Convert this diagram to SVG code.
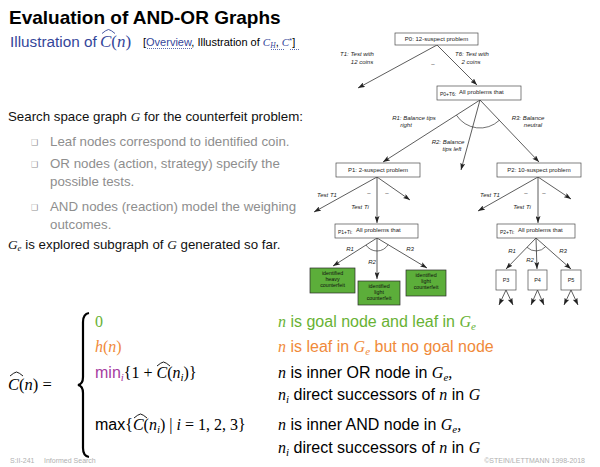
<svg xmlns="http://www.w3.org/2000/svg" width="600" height="467" viewBox="0 0 600 467">
  <style>
    .s { font-family: "Liberation Sans", Arial, sans-serif; }
    .mi { font-family: "Liberation Serif", "Times New Roman", serif; font-style: italic; }
    .mr { font-family: "Liberation Serif", "Times New Roman", serif; }
    .blue { fill: #34469a; }
    .gray { fill: #8e8e8e; }
    .green { fill: #68b234; }
    .orange { fill: #f08a3a; }
    .mag { fill: #a63ca0; }
    .box { fill: #ffffff; stroke: #4a4a4a; stroke-width: 0.7; }
    .leaf { fill: #5cae3a; stroke: #2a2a2a; stroke-width: 0.7; }
    .nl { font-family: "Liberation Sans", Arial, sans-serif; font-size: 6px; fill: #222; text-anchor: middle; }
    .nh { font-family: "Liberation Sans", Arial, sans-serif; font-size: 5px; fill: #222; }
    .nt { font-family: "Liberation Sans", Arial, sans-serif; font-size: 6px; fill: #222; }
    .pn { font-family: "Liberation Sans", Arial, sans-serif; font-size: 5.5px; fill: #222; text-anchor: middle; }
    .lt { font-family: "Liberation Sans", Arial, sans-serif; font-size: 5.3px; fill: #111; text-anchor: middle; }
    .el { font-family: "Liberation Sans", Arial, sans-serif; font-size: 6px; font-style: italic; fill: #222; text-anchor: middle; }
    .dash { font-family: "Liberation Sans", Arial, sans-serif; font-size: 6px; fill: #222; text-anchor: middle; }
    .edge { stroke: #333; stroke-width: 0.8; fill: none; marker-end: url(#arr); }
    .arc { stroke: #333; stroke-width: 0.7; fill: none; }
    .hat { stroke: #000; stroke-width: 0.9; fill: none; }
    .hatb { stroke: #34469a; stroke-width: 0.9; fill: none; }
    .dot { stroke: #34469a; stroke-width: 0.8; stroke-dasharray: 1 1; }
    .bul { font-family: "DejaVu Sans", sans-serif; font-size: 8px; fill: #8e8e8e; }
  </style>
  <defs>
    <marker id="arr" markerUnits="userSpaceOnUse" markerWidth="7" markerHeight="5" refX="7" refY="2.5" orient="auto">
      <path d="M0,0 L7,2.5 L0,5 L1.5,2.5 z" fill="#222"/>
    </marker>
  </defs>

  <!-- heading -->
  <g id="heading">
    <text x="9" y="24" class="s" font-size="19" font-weight="bold" fill="#000">Evaluation of AND-OR Graphs</text>
    <text x="10" y="47" class="s blue" font-size="15.3">Illustration of</text>
    <text x="100" y="47" class="mr blue" font-size="17"><tspan class="mi">C</tspan>(<tspan class="mi">n</tspan>)</text>
    <path class="hatb" d="M102,33.5 Q106,30 108.5,29.5 Q111,30 115,33.5"/>
    <text x="143" y="46" class="s" font-size="11" fill="#000">[<tspan class="blue">Overview</tspan>, Illustration of <tspan class="mi blue">C</tspan><tspan class="mi blue" font-size="7.5" dy="2">H</tspan><tspan dy="-2">, </tspan><tspan class="mi blue">C</tspan><tspan class="blue" font-size="8" dy="-3">*</tspan><tspan dy="3">]</tspan></text>
    <line class="dot" x1="147" y1="48.5" x2="193" y2="48.5"/>
    <line class="dot" x1="271" y1="49.5" x2="285" y2="49.5"/>
    <line class="dot" x1="290" y1="49.5" x2="300" y2="49.5"/>
  </g>

  <!-- description text -->
  <g id="description">
    <text x="8" y="121" class="s" font-size="13.3" fill="#111">Search space graph <tspan class="mi">G</tspan> for the counterfeit problem:</text>
    <text x="31" y="145" class="bul">❑</text>
    <text x="31" y="167" class="bul">❑</text>
    <text x="31" y="210" class="bul">❑</text>
    <g class="s gray" font-size="13.3">
      <text x="50" y="146">Leaf nodes correspond to identified coin.</text>
      <text x="50" y="168">OR nodes (action, strategy) specify the</text>
      <text x="50" y="186">possible tests.</text>
      <text x="50" y="211">AND nodes (reaction) model the weighing</text>
      <text x="50" y="229">outcomes.</text>
    </g>
    <text x="8" y="249" class="s" font-size="13.3" fill="#111"><tspan class="mi">G</tspan><tspan class="mi" font-size="9" dy="2">e</tspan><tspan dy="-2"> is explored subgraph of </tspan><tspan class="mi">G</tspan> generated so far.</text>
  </g>

  <!-- connectors -->
  <g id="connectors">
    <path class="edge" d="M437,45 L358,88"/>
    <path class="edge" d="M437,45 L477,85"/>
    <path class="edge" d="M480,100 L383,162"/>
    <path class="edge" d="M480,100 L461,170"/>
    <path class="edge" d="M480,100 L539,162"/>
    <path class="arc" d="M456.4,115.1 A28,28 0 0 0 499.3,120.3"/>

    <path class="edge" d="M377,177 L314,212"/>
    <path class="edge" d="M377,177 L377,223"/>
    <path class="edge" d="M377,177 L410,200"/>
    <path class="edge" d="M538,177 L478,211"/>
    <path class="edge" d="M538,177 L538,223"/>
    <path class="edge" d="M538,177 L571,199"/>

    <path class="edge" d="M377,238 L333,266"/>
    <path class="edge" d="M377,238 L377,279"/>
    <path class="edge" d="M377,238 L427,268"/>
    <path class="arc" d="M366,245 A13,13 0 0 0 388.1,244.7"/>

    <path class="edge" d="M536,238 L506,269"/>
    <path class="edge" d="M536,238 L537,269"/>
    <path class="edge" d="M536,238 L571,269"/>
    <path class="arc" d="M527,247.3 A13,13 0 0 0 545.7,246.6"/>

    <path class="edge" d="M506,290 L499,305"/>
    <path class="edge" d="M506,290 L513,305"/>
    <path class="edge" d="M537.5,290 L531,305"/>
    <path class="edge" d="M537.5,290 L544,305"/>
    <path class="edge" d="M571,290 L564,305"/>
    <path class="edge" d="M571,290 L578,305"/>

    <!-- connector labels -->
    <text class="el" x="357" y="56">T1: Test with</text>
    <text class="el" x="362" y="64">12 coins</text>
    <text class="el" x="472" y="56">T6: Test with</text>
    <text class="el" x="471" y="64">2 coins</text>
    <text class="dash" x="433" y="66">–</text>
    <text class="el" x="414" y="120">R1: Balance tips</text>
    <text class="el" x="406" y="127">right</text>
    <text class="el" x="448" y="144">R2: Balance</text>
    <text class="el" x="452" y="151">tips left</text>
    <text class="el" x="528" y="120">R3: Balance</text>
    <text class="el" x="533" y="127">neutral</text>

    <text class="el" x="327" y="197">Test T1</text>
    <text class="el" x="360" y="209">Test Ti</text>
    <text class="dash" x="369" y="195">–</text>
    <text class="dash" x="387" y="195">–</text>
    <text class="el" x="490" y="197">Test T1</text>
    <text class="el" x="522" y="209">Test Ti</text>
    <text class="dash" x="526" y="195">–</text>
    <text class="dash" x="544" y="195">–</text>

    <text class="el" x="350" y="251">R1</text>
    <text class="el" x="372" y="264">R2</text>
    <text class="el" x="410" y="251">R3</text>
    <text class="el" x="512" y="253">R1</text>
    <text class="el" x="530" y="262">R2</text>
    <text class="el" x="563" y="253">R3</text>
  </g>

  <!-- nodes -->
  <g id="P0">
    <rect class="box" x="395" y="33" width="83" height="12"/>
    <text class="nl" x="436.5" y="41.3">P0: 12-suspect problem</text>
  </g>
  <g id="P0T6">
    <rect class="box" x="437" y="86" width="84" height="14"/>
    <text class="nh" x="440" y="95.5">P0+T6:</text>
    <text class="nt" x="459" y="94">All problems that</text>
  </g>
  <g id="P1">
    <rect class="box" x="336" y="163" width="84" height="14"/>
    <text class="nl" x="378" y="172">P1: 2-suspect problem</text>
  </g>
  <g id="P2">
    <rect class="box" x="497" y="163" width="84" height="14"/>
    <text class="nl" x="539" y="172">P2: 10-suspect problem</text>
  </g>
  <g id="P1Ti">
    <rect class="box" x="335" y="224" width="83" height="14"/>
    <text class="nh" x="338" y="233.5">P1+Ti:</text>
    <text class="nt" x="356" y="232">All problems that</text>
  </g>
  <g id="P2Ti">
    <rect class="box" x="497" y="224" width="78" height="14"/>
    <text class="nh" x="500" y="233.5">P2+Ti:</text>
    <text class="nt" x="518" y="232">All problems that</text>
  </g>
  <g id="L1">
    <rect class="leaf" x="310" y="268" width="45" height="25"/>
    <text class="lt" x="332.5" y="275">identified</text>
    <text class="lt" x="332.5" y="281">heavy</text>
    <text class="lt" x="332.5" y="287">counterfeit</text>
  </g>
  <g id="L2">
    <rect class="leaf" x="358" y="281" width="42" height="24"/>
    <text class="lt" x="379" y="288">identified</text>
    <text class="lt" x="379" y="294">light</text>
    <text class="lt" x="379" y="300">counterfeit</text>
  </g>
  <g id="L3">
    <rect class="leaf" x="406" y="270" width="40" height="26"/>
    <text class="lt" x="426" y="277">identified</text>
    <text class="lt" x="426" y="283">light</text>
    <text class="lt" x="426" y="289">counterfeit</text>
  </g>
  <g id="P3">
    <rect class="box" x="496" y="270" width="20" height="20"/>
    <text class="pn" x="506" y="282">P3</text>
  </g>
  <g id="P4">
    <rect class="box" x="528" y="270" width="19" height="20"/>
    <text class="pn" x="537.5" y="282">P4</text>
  </g>
  <g id="P5">
    <rect class="box" x="561" y="270" width="20" height="20"/>
    <text class="pn" x="571" y="282">P5</text>
  </g>

  <!-- recursive definition of C-hat -->
  <g id="formula">
    <text x="8" y="390" class="mr" font-size="16.5" fill="#000"><tspan class="mi">C</tspan>(<tspan class="mi">n</tspan>) =</text>
    <path class="hat" d="M10,376 Q14,372.5 16.5,372 Q19,372.5 23,376"/>
    <path d="M89,313 Q83,314 83,322 L83,377 Q83,384 78,385 Q83,386 83,393 L83,448 Q83,456 89,457" fill="none" stroke="#000" stroke-width="2.2"/>

    <text x="95" y="327" class="mr green" font-size="16">0</text>
    <text x="95" y="352" class="mr orange" font-size="16"><tspan class="mi">h</tspan>(<tspan class="mi">n</tspan>)</text>
    <text x="95" y="378" font-size="16" fill="#000"><tspan class="s mag">min</tspan><tspan class="mi mag" font-size="11" dy="3">i</tspan><tspan class="mr" dy="-3">{1 + </tspan><tspan class="mi">C</tspan><tspan class="mr">(</tspan><tspan class="mi">n</tspan><tspan class="mi" font-size="11" dy="3">i</tspan><tspan class="mr" dy="-3">)}</tspan></text>
    <path class="hat" d="M157,366 Q161,362.5 163.5,362 Q166,362.5 170,366"/>
    <text x="95" y="430" font-size="16" fill="#000"><tspan class="s">max</tspan><tspan class="mr">{</tspan><tspan class="mi">C</tspan><tspan class="mr">(</tspan><tspan class="mi">n</tspan><tspan class="mi" font-size="11" dy="3">i</tspan><tspan class="mr" dy="-3">) | </tspan><tspan class="mi">i</tspan><tspan class="mr"> = 1, 2, 3}</tspan></text>
    <path class="hat" d="M134,418 Q138,414.5 140.5,414 Q143,414.5 147,418"/>

    <text x="278" y="327" class="s green" font-size="16"><tspan class="mi">n</tspan> is goal node and leaf in <tspan class="mi">G</tspan><tspan class="mi" font-size="11" dy="3">e</tspan></text>
    <text x="278" y="352" class="s orange" font-size="16"><tspan class="mi">n</tspan> is leaf in <tspan class="mi">G</tspan><tspan class="mi" font-size="11" dy="3">e</tspan><tspan dy="-3"> but no goal node</tspan></text>
    <text x="278" y="378" class="s" font-size="16" fill="#000"><tspan class="mi">n</tspan> is inner OR node in <tspan class="mi">G</tspan><tspan class="mi" font-size="11" dy="3">e</tspan><tspan class="mi" dy="-3">,</tspan></text>
    <text x="278" y="400" class="s" font-size="16" fill="#000"><tspan class="mi">n</tspan><tspan class="mi" font-size="11" dy="3">i</tspan><tspan dy="-3">  direct successors of </tspan><tspan class="mi">n</tspan> in <tspan class="mi">G</tspan></text>
    <text x="278" y="430" class="s" font-size="16" fill="#000"><tspan class="mi">n</tspan> is inner AND node in <tspan class="mi">G</tspan><tspan class="mi" font-size="11" dy="3">e</tspan><tspan class="mi" dy="-3">,</tspan></text>
    <text x="278" y="453" class="s" font-size="16" fill="#000"><tspan class="mi">n</tspan><tspan class="mi" font-size="11" dy="3">i</tspan><tspan dy="-3"> direct successors of </tspan><tspan class="mi">n</tspan> in <tspan class="mi">G</tspan></text>
  </g>

  <!-- footer -->
  <g id="footer" class="s" font-size="7" fill="#b0b0b0">
    <text x="10" y="463">S:II-241</text>
    <text x="44" y="463">Informed Search</text>
    <text x="585" y="463" text-anchor="end">©STEIN/LETTMANN 1998-2018</text>
  </g>
</svg>
